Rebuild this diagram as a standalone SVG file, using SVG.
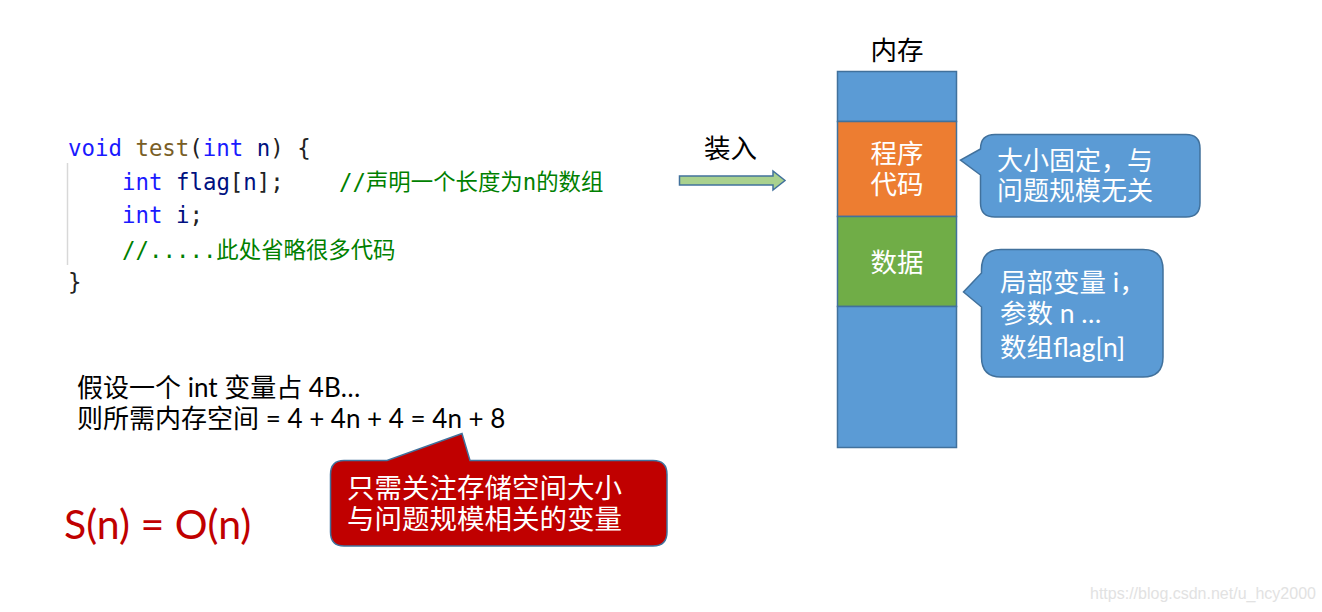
<svg xmlns="http://www.w3.org/2000/svg" width="1322" height="612" viewBox="0 0 1322 612">
<style>
.code{font-family:"DejaVu Sans Mono","Noto Sans CJK SC",monospace;font-size:22.4px;fill:#222;white-space:pre}
.kw{fill:#1a1aff}
.fn{fill:#795e26}
.id{fill:#001080}
.cm{fill:#008000}
.t{font-family:"Lato","Noto Sans CJK SC",sans-serif;font-size:26.5px;fill:#000;white-space:pre}
.w{fill:#ffffff}
.box{stroke:#41719c;stroke-width:1.5}
</style>
<rect width="1322" height="612" fill="#ffffff"/>

<g id="code">
  <line x1="67.5" y1="163" x2="67.5" y2="265" stroke="#d8d8d8" stroke-width="1.5"/>
  <text class="code" x="68" y="156"><tspan class="kw">void</tspan> <tspan class="fn">test</tspan>(<tspan class="kw">int</tspan> <tspan class="id">n</tspan>) {</text>
  <text class="code" x="122" y="190"><tspan class="kw">int</tspan> <tspan class="id">flag</tspan>[<tspan class="id">n</tspan>];</text>
  <text class="code cm" x="339" y="190">//声明一个长度为n的数组</text>
  <text class="code" x="122" y="223"><tspan class="kw">int</tspan> <tspan class="id">i</tspan>;</text>
  <text class="code cm" x="122" y="258">//.....此处省略很多代码</text>
  <text class="code" x="68" y="290">}</text>
</g>

<g id="assumption">
  <text class="t" x="77" y="397" style="font-size:26px">假设一个 int 变量占 4B…</text>
  <text class="t" x="77" y="428" style="font-size:26px">则所需内存空间 = 4 + 4n + 4 = 4n + 8</text>
</g>

<g id="complexity">
  <text x="64" y="539" style="font-family:'Lato',sans-serif;font-size:41px;fill:#c00000">S(n) = O(n)</text>
</g>

<g id="load-arrow">
  <text class="t" x="704" y="158">装入</text>
  <path class="box" d="M679.5,176 H773 V171 L785,180.5 L773,190 V185 H679.5 Z" fill="#a9d18e"/>
</g>

<g id="memory">
  <text class="t" x="897" y="60" text-anchor="middle">内存</text>
  <rect class="box" x="837.5" y="71.5" width="119" height="50" fill="#5b9bd5"/>
  <rect class="box" x="837.5" y="121.5" width="119" height="95" fill="#ed7d31"/>
  <rect class="box" x="837.5" y="216.5" width="119" height="90" fill="#70ad47"/>
  <rect class="box" x="837.5" y="306.5" width="119" height="141" fill="#5b9bd5"/>
  <text class="t w" x="897" y="163" text-anchor="middle">程序</text>
  <text class="t w" x="897" y="194" text-anchor="middle">代码</text>
  <text class="t w" x="897" y="272" text-anchor="middle">数据</text>
</g>

<g id="callout-code">
  <path class="box" fill="#5b9bd5" d="M995,134.5 H1186 Q1200,134.5 1200,148.5 V203 Q1200,217 1186,217 H995 Q980.5,217 980.5,203 V175 L960.5,160 L980.5,149 Q980.5,134.5 995,134.5 Z"/>
  <text class="t w" x="997" y="170" style="font-size:26px">大小固定，与</text>
  <text class="t w" x="997" y="200" style="font-size:26px">问题规模无关</text>
</g>

<g id="callout-data">
  <path class="box" fill="#5b9bd5" d="M1001,249.5 H1143 Q1163,249.5 1163,269.5 V357 Q1163,377 1143,377 H1001 Q981.5,377 981.5,357 V307 L963.5,292 L981.5,273 V269.5 Q981.5,249.5 1001,249.5 Z"/>
  <text class="t w" x="1000" y="292">局部变量 i，</text>
  <text class="t w" x="1000" y="323">参数 n …</text>
  <text class="t w" x="1000" y="357">数组flag[n]</text>
</g>

<g id="callout-note">
  <path class="box" fill="#c00000" d="M344,460.5 H387 L462,433.5 L470,460.5 H653 Q667,460.5 667,474.5 V532 Q667,546 653,546 H344 Q330.5,546 330.5,532 V474.5 Q330.5,460.5 344,460.5 Z"/>
  <text class="t w" x="347" y="498" style="font-size:27.5px">只需关注存储空间大小</text>
  <text class="t w" x="347" y="529" style="font-size:27.5px">与问题规模相关的变量</text>
</g>

<g id="watermark">
  <text x="1090" y="599" style="font-family:'Liberation Sans',sans-serif;font-size:16px;fill:#e2e2e2">https://blog.csdn.net/u_hcy2000</text>
</g>
</svg>
